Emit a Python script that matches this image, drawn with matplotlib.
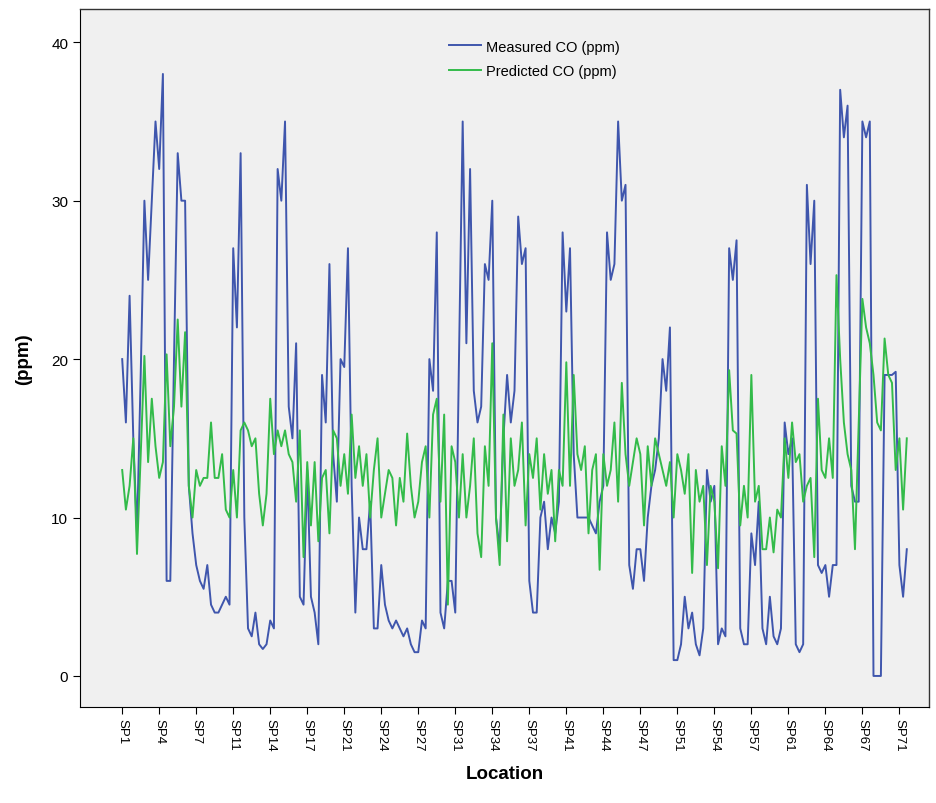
import numpy as np
import matplotlib
matplotlib.use('Agg')
import matplotlib.pyplot as plt

plt.rcParams['font.family'] = ['Liberation Sans', 'DejaVu Sans']

# one point per case, 3 cases per location (SP1..SP71)
measured = [
    20, 16, 24, 15, 9, 19, 30, 25, 30, 35, 32, 38, 6, 6, 20, 33, 30, 30,
    12, 9, 7, 6, 5.5, 7, 4.5, 4, 4, 4.5, 5, 4.5, 27, 22, 33, 10, 3, 2.5,
    4, 2, 1.7, 2, 3.5, 3, 32, 30, 35, 17, 15, 21, 5, 4.5, 13, 5, 4, 2,
    19, 16, 26, 14, 11, 20, 19.5, 27, 12, 4, 10, 8, 8, 11, 3, 3, 7, 4.5,
    3.5, 3, 3.5, 3, 2.5, 3, 2, 1.5, 1.5, 3.5, 3, 20, 18, 28, 4, 3, 6,
    6, 4, 20, 35, 21, 32, 18, 16, 17, 26, 25, 30, 10, 8, 15, 19, 16, 18,
    29, 26, 27, 6, 4, 4, 10, 11, 8, 10, 9, 11, 28, 23, 27, 14, 10, 10,
    10, 10, 9.5, 9, 11, 12, 28, 25, 26, 35, 30, 31, 7, 5.5, 8, 8, 6, 10,
    12, 13, 15, 20, 18, 22, 1, 1, 2, 5, 3, 4, 2, 1.3, 3, 13, 11, 12,
    2, 3, 2.5, 27, 25, 27.5, 3, 2, 2, 9, 7, 11, 3, 2, 5, 2.5, 2, 3,
    16, 14, 15, 2, 1.5, 2, 31, 26, 30, 7, 6.5, 7, 5, 7, 7, 37, 34, 36,
    12, 11, 11, 35, 34, 35, 0, 0, 0, 19, 19, 19, 19.2, 7, 5, 8,
]
predicted = [
    13, 10.5, 12, 15, 7.7, 14, 20.2, 13.5, 17.5, 14.5, 12.5, 13.5, 20.3, 14.5, 17, 22.5, 17, 21.7,
    12, 10, 13, 12, 12.5, 12.5, 16, 12.5, 12.5, 14, 10.5, 10, 13, 10, 15.5, 16, 15.5, 14.5,
    15, 11.5, 9.5, 11.5, 17.5, 14, 15.5, 14.5, 15.5, 14, 13.5, 11, 15.5, 7.5, 13.5, 9.5, 13.5, 8.5,
    12.5, 13, 9, 15.5, 15, 12, 14, 11.5, 16.5, 12.5, 14.5, 12, 14, 10, 13, 15, 10, 11.5,
    13, 12.5, 9.5, 12.5, 11, 15.3, 12, 10, 11, 13.5, 14.5, 10, 16.5, 17.5, 11, 16.5, 4.5, 14.5,
    13.5, 10, 14, 10, 12, 15, 9, 7.5, 14.5, 12, 21, 10, 7, 16.5, 8.5, 15, 12, 13,
    16, 9.5, 14, 12.5, 15, 10.5, 14, 11.5, 13, 8.5, 13, 12, 19.8, 12, 19, 14, 13, 14.5,
    9, 13, 14, 6.7, 14, 12, 13, 16, 11, 18.5, 14, 12, 13.5, 15, 14, 9.5, 14.5, 12,
    15, 14, 13, 12, 13.5, 10, 14, 13, 11.5, 14, 6.5, 13, 11, 12, 7, 12, 11, 6.8,
    14.5, 12, 19.3, 15.5, 15.3, 9.5, 12, 10, 19, 11, 12, 8, 8, 10, 7.8, 10.5, 10, 15,
    12.5, 16, 13.5, 14, 11, 12, 12.5, 7.5, 17.5, 13, 12.5, 15, 12.5, 25.3, 20, 16, 14, 13,
    8, 16, 23.8, 22, 21, 19, 16, 15.5, 21.3, 19, 18.5, 13, 15, 10.5, 15,
]
tick_labels = ['SP1', 'SP4', 'SP7', 'SP11', 'SP14', 'SP17', 'SP21', 'SP24', 'SP27', 'SP31', 'SP34',
               'SP37', 'SP41', 'SP44', 'SP47', 'SP51', 'SP54', 'SP57', 'SP61', 'SP64', 'SP67', 'SP71']

x = np.arange(len(measured))

fig = plt.figure(figsize=(9.36, 8.04), dpi=100)
ax = fig.add_axes([80/936, 96/804, 849/936, 698/804])
ax.set_facecolor('#f0f0f0')

ax.plot(x, measured, color='#3f56ad', lw=1.4, label='Measured CO (ppm)')
ax.plot(x[:len(predicted)], predicted, color='#33bb4a', lw=1.4, label='Predicted CO (ppm)')

ax.set_xlim(-11.4, 218.0)
ax.set_ylim(-1.96, 42.1)
ax.set_yticks([0, 10, 20, 30, 40])
ax.set_xticks(np.arange(0, len(measured), 10))
ax.set_xticklabels(tick_labels, rotation=270, fontsize=9.5)
ax.tick_params(axis='y', labelsize=11, length=5)
ax.tick_params(axis='x', length=5, pad=3)

for s in ['top', 'right']:
    ax.spines[s].set_color('#333333')
    ax.spines[s].set_linewidth(1.0)

ax.set_xlabel('Location', fontsize=13.5, fontweight='bold', labelpad=10)
ax.set_ylabel('(ppm)', fontsize=13.5, fontweight='bold', labelpad=14)

ax.legend(loc='upper center', bbox_to_anchor=(0.535, 0.975), frameon=False, fontsize=10.5,
          handlelength=2.2, handletextpad=0.3, labelspacing=0.7)

fig.savefig('out.png', dpi=100)
